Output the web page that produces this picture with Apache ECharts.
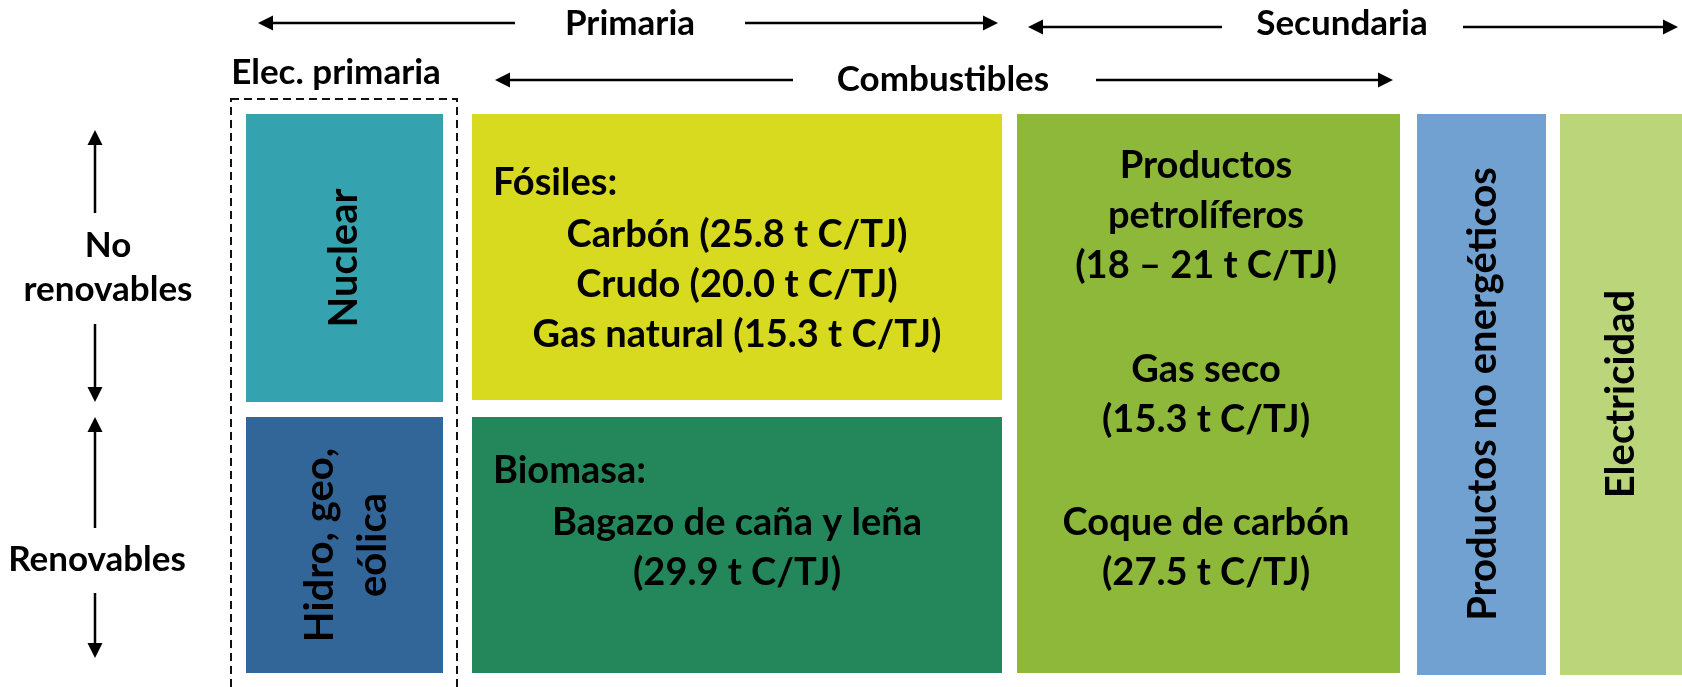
<!DOCTYPE html>
<html>
<head>
<meta charset="utf-8">
<script src="https://cdn.jsdelivr.net/npm/echarts@6/dist/echarts.min.js"></script>
<style>
  html, body { margin: 0; padding: 0; background: #fff; }
  #chart { width: 1682px; height: 687px; }
</style>
</head>
<body>
<div id="chart"></div>
<script>
// diagram space: x 0..1682, y 0..687 (top to bottom)
const boxNames = ['Nuclear', 'Hidro', 'Fósiles', 'Biomasa', 'Secundarios', 'No energéticos', 'Electricidad']
const boxX0 = [246, 246, 472, 472, 1017, 1417, 1560]
const boxX1 = [443, 443, 1002, 1002, 1400, 1546, 1690]
const boxY0 = [114, 417, 114, 417, 114, 114, 114]
const boxY1 = [402, 673, 400, 673, 673, 675, 675]
const boxColors = ['#34A2AF', '#336698', '#D7DA1E', '#24875B', '#8DB83A', '#71A1D0', '#BAD57A']

// dashed frame round the primary electricity column
const frameX = [231, 457]
const frameY = [99, 700]

// arrows: tail -> tip
const arrowTail = [[515, 23], [745, 23], [1222, 27], [1463, 27], [793, 80], [1096, 80], [95, 213], [95, 324], [95, 528], [95, 593]]
const arrowTip = [[258, 23], [998, 23], [1028, 27], [1678, 27], [495, 80], [1393, 80], [95, 130], [95, 402], [95, 417], [95, 658]]

// outer headings
const headText = ['Primaria', 'Secundaria', 'Elec. primaria', 'Combustibles', 'No\nrenovables', 'Renovables']
const headX = [630, 1342, 336, 943, 108, 97]
const headY = [24, 24, 73, 80, 268, 560]

// text inside the boxes
const boxText = [
  'Fósiles:', 'Carbón (25.8 t C/TJ)\nCrudo (20.0 t C/TJ)\nGas natural (15.3 t C/TJ)',
  'Biomasa:', 'Bagazo de caña y leña\n(29.9 t C/TJ)',
  'Productos\npetrolíferos\n(18 – 21 t C/TJ)', 'Gas seco\n(15.3 t C/TJ)', 'Coque de carbón\n(27.5 t C/TJ)'
]
const boxTextX = [493, 737, 493, 737, 1206, 1206, 1206]
const boxTextY = [183, 285, 471, 548, 216, 395, 548]
const boxTextAlign = ['left', 'center', 'left', 'center', 'center', 'center', 'center']

// vertical labels inside the boxes
const vLabelText = ['Nuclear', 'Hidro, geo,\neólica', 'Productos no energéticos', 'Electricidad']
const vLabelX = [344, 347, 1483, 1621]
const vLabelY = [258, 545, 394, 394]

const FONT = 'Lato, "Open Sans", sans-serif'

function textSeries(name, texts, xs, ys, fmt) {
  return {
    type: 'custom',
    name,
    silent: true,
    data: texts.map((t, i) => [xs[i], ys[i]]),
    renderItem: (params, api) => {
      const p = api.coord([api.value(0), api.value(1)])
      const i = params.dataIndex
      return {
        type: 'text',
        x: p[0],
        y: p[1],
        rotation: fmt.rotation || 0,
        style: {
          text: texts[i],
          fontFamily: FONT,
          fontWeight: 'bold',
          fontSize: fmt.fontSize,
          lineHeight: fmt.lineHeight,
          fill: '#000',
          align: fmt.align ? fmt.align[i] : 'center',
          verticalAlign: 'middle'
        }
      }
    }
  }
}

const chart = echarts.init(document.getElementById('chart'))

const option = {
  animation: false,
  backgroundColor: '#fff',
  grid: { left: 0, right: 0, top: 0, bottom: 0 },
  xAxis: { type: 'value', min: 0, max: 1682, show: false },
  yAxis: { type: 'value', min: 0, max: 687, inverse: true, show: false },
  series: [
    {
      type: 'custom',
      name: 'boxes',
      silent: true,
      data: boxNames.map((n, i) => [boxX0[i], boxY0[i], boxX1[i], boxY1[i]]),
      renderItem: (params, api) => {
        const a = api.coord([api.value(0), api.value(1)])
        const b = api.coord([api.value(2), api.value(3)])
        return {
          type: 'rect',
          shape: { x: a[0], y: a[1], width: b[0] - a[0], height: b[1] - a[1] },
          style: { fill: boxColors[params.dataIndex] }
        }
      }
    },
    {
      type: 'custom',
      name: 'frame',
      silent: true,
      data: [[frameX[0], frameY[0], frameX[1], frameY[1]]],
      renderItem: (params, api) => {
        const a = api.coord([api.value(0), api.value(1)])
        const b = api.coord([api.value(2), api.value(3)])
        return {
          type: 'rect',
          shape: { x: a[0], y: a[1], width: b[0] - a[0], height: b[1] - a[1] },
          style: { fill: 'none', stroke: '#111', lineWidth: 2, lineDash: [8, 5] }
        }
      }
    },
    {
      type: 'custom',
      name: 'arrows',
      silent: true,
      data: arrowTail.map((t, i) => [t[0], t[1], arrowTip[i][0], arrowTip[i][1]]),
      renderItem: (params, api) => {
        const s = api.coord([api.value(0), api.value(1)])
        const e = api.coord([api.value(2), api.value(3)])
        const dx = e[0] - s[0], dy = e[1] - s[1]
        const len = Math.sqrt(dx * dx + dy * dy)
        const ux = dx / len, uy = dy / len
        const head = 15, half = 7.5
        const bx = e[0] - ux * head, by = e[1] - uy * head
        return {
          type: 'group',
          children: [
            {
              type: 'line',
              shape: { x1: s[0], y1: s[1], x2: bx + ux * 2, y2: by + uy * 2 },
              style: { stroke: '#000', lineWidth: 2.5 }
            },
            {
              type: 'polygon',
              shape: { points: [e, [bx - uy * half, by + ux * half], [bx + uy * half, by - ux * half]] },
              style: { fill: '#000' }
            }
          ]
        }
      }
    },
    textSeries('heads', headText, headX, headY, { fontSize: 35, lineHeight: 44 }),
    textSeries('boxText', boxText, boxTextX, boxTextY, { fontSize: 38, lineHeight: 50, align: boxTextAlign }),
    textSeries('vlabels', vLabelText, vLabelX, vLabelY, { fontSize: 40, lineHeight: 53, rotation: Math.PI / 2 })
  ]
}

chart.setOption(option)
</script>
</body>
</html>
